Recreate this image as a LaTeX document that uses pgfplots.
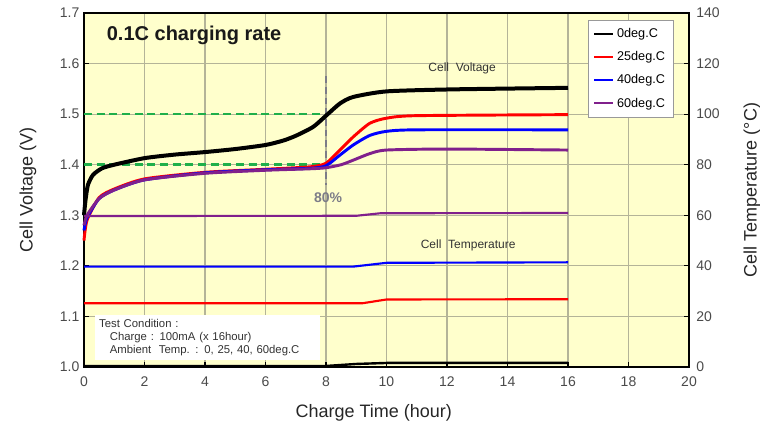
\documentclass[border=0pt]{standalone}
\usepackage{pgfplots}
\pgfplotsset{compat=1.18}
\usepackage{fontspec}
\setmainfont{Liberation Sans}
\setsansfont{Liberation Sans}

\definecolor{bgyellow}{HTML}{FFFFCC}
\definecolor{gridcol}{HTML}{B4B498}
\definecolor{ticktext}{HTML}{4A4A4A}
\definecolor{vred}{HTML}{FF0000}
\definecolor{vblue}{HTML}{0000FF}
\definecolor{vpurple}{HTML}{80208C}
\definecolor{refgreen}{HTML}{1FAF4A}
\definecolor{refgray}{HTML}{7C7C88}

\newcommand\labfont{\fontsize{13.5}{16}\selectfont}

\pgfplotsset{
  common/.style={
    scale only axis,
    width=453.75pt, height=265.5pt,
    xmin=0, xmax=20,
    axis line style={line width=1.2pt},
    tick style={black, line width=0.8pt},
    major tick length=4pt,
    tick label style={font=\fontsize{10.5}{12}\selectfont, text=ticktext},
    /pgf/number format/assume math mode=true,
  }
}

\begin{document}
\begin{tikzpicture}
\useasboundingbox (-63pt,-45pt) rectangle (507pt,275.25pt);

\begin{axis}[
  common,
  ymin=1.0, ymax=1.7,
  xtick={0,2,...,20},
  ytick={1.0,1.1,...,1.71},
  yticklabel style={/pgf/number format/.cd, fixed, fixed zerofill, precision=1},
  xticklabel style={yshift=-4pt},
  xtick pos=bottom, ytick pos=left,
  grid=major,
  major grid style={gridcol, line width=0.8pt},
  axis background/.style={fill=bgyellow},
  xlabel={Charge Time (hour)},
  ylabel={Cell Voltage (V)},
  every axis x label/.style={at={(axis description cs:0.479,-0.13)}, anchor=center,
    font=\labfont, text=black!85},
  every axis y label/.style={at={(axis description cs:-0.0926,0.5)}, rotate=90, anchor=center,
    font=\labfont, text=black!85},
  legend style={at={(rel axis cs:0.974,0.98)}, anchor=north east,
    fill=white, draw=black!40, font=\fontsize{9.5}{11}\selectfont,
    row sep=5pt, inner xsep=4pt, inner ysep=4pt},
  legend cell align=left,
  legend image code/.code={\draw[#1, line width=1.5pt] (0cm,0cm) -- (0.5cm,0cm);},
  clip=false,
]
% reference levels
\addplot[refgreen, line width=2pt, dash pattern=on 6pt off 3.5pt, forget plot]
  coordinates {(0,1.50) (8,1.50)};
\addplot[refgreen, line width=2pt, dash pattern=on 6pt off 3.5pt, forget plot]
  coordinates {(0,1.40) (8,1.40)};
\addplot[refgray, line width=1.8pt, dash pattern=on 5pt off 3pt, forget plot]
  coordinates {(8,1.575) (8,1.36)};

% cell voltage
\addplot[black, line width=3pt, smooth, tension=0.4] coordinates {
  (0,1.30) (0.05,1.33) (0.13,1.36) (0.3,1.38) (0.6,1.393) (1,1.40) (2,1.413)
  (3,1.42) (4,1.425) (5,1.431) (6,1.439) (6.6,1.448) (7.03,1.458) (7.58,1.475)
  (8.02,1.498) (8.46,1.521) (8.9,1.534) (10,1.545) (12.2,1.549) (16,1.552)
};
\addlegendentry{0deg.C}
\addplot[vred, line width=2.2pt, smooth, tension=0.4] coordinates {
  (0,1.25) (0.1,1.29) (0.5,1.335) (1,1.352) (2,1.372) (4,1.385) (6,1.391)
  (7.5,1.396) (8,1.403) (8.46,1.429) (8.9,1.455) (9.45,1.482) (10,1.492)
  (11,1.497) (16,1.499)
};
\addlegendentry{25deg.C}
\addplot[vblue, line width=2.2pt, smooth, tension=0.4] coordinates {
  (0,1.27) (0.1,1.295) (0.5,1.333) (1,1.35) (2,1.37) (4,1.384) (6,1.39)
  (7.5,1.393) (8,1.398) (8.46,1.419) (8.9,1.439) (9.45,1.458) (10,1.466)
  (11,1.469) (16,1.469)
};
\addlegendentry{40deg.C}
\addplot[vpurple, line width=2.2pt, smooth, tension=0.4] coordinates {
  (0,1.28) (0.1,1.30) (0.5,1.333) (1,1.35) (2,1.37) (4,1.383) (6,1.389)
  (7.5,1.392) (8,1.394) (8.5,1.40) (8.9,1.409) (9.45,1.422) (10,1.429)
  (12,1.431) (16,1.429)
};
\addlegendentry{60deg.C}

% annotations
\node[anchor=west, font=\fontsize{15}{18}\selectfont\bfseries, text=black!90]
  at (axis cs:0.6,1.656) {0.1C charging rate};
\node[font=\fontsize{9}{11}\selectfont, text=black!80] at (axis cs:12.5,1.59) {Cell\ \ Voltage};
\node[font=\fontsize{9}{11}\selectfont, text=black!80] at (axis cs:12.7,1.241) {Cell\ \ Temperature};
\node[font=\fontsize{10.5}{12}\selectfont\bfseries, text=refgray] at (axis cs:8.07,1.334) {80\%};
\node[anchor=north west, fill=white, inner xsep=3pt, inner ysep=3pt,
  font=\fontsize{8.5}{9.8}\selectfont, text=black!80, align=left, text width=163pt]
  at (axis cs:0.36,1.103)
  {Test Condition :\\
   \hspace*{8pt}Charge : 100mA (x 16hour)\\
   \hspace*{8pt}Ambient\ \ Temp. : 0, 25, 40, 60deg.C};
\end{axis}

\begin{axis}[
  common,
  ymin=0, ymax=140,
  ytick={0,20,...,140},
  axis x line=none,
  axis y line*=right,
  ytick pos=right,
  yticklabel style={xshift=2pt},
  ylabel={Cell Temperature (\textdegree C)},
  every axis y label/.style={at={(axis description cs:1.104,0.5)}, rotate=90, anchor=center,
    font=\labfont, text=black!85},
]
% cell temperature
\addplot[black, line width=1.8pt] coordinates {
  (0,0.4) (8,0.4) (9,1.2) (10,1.6) (16,1.6)
};
\addplot[vred, line width=1.6pt] coordinates {
  (0,25.2) (9.2,25.2) (10,26.7) (16,26.8)
};
\addplot[vblue, line width=1.6pt] coordinates {
  (0,39.7) (8.9,39.7) (10,41.2) (16,41.4)
};
\addplot[vpurple, line width=1.6pt] coordinates {
  (0,59.7) (9,59.8) (9.8,60.8) (16,60.9)
};
\end{axis}
\end{tikzpicture}
\end{document}
